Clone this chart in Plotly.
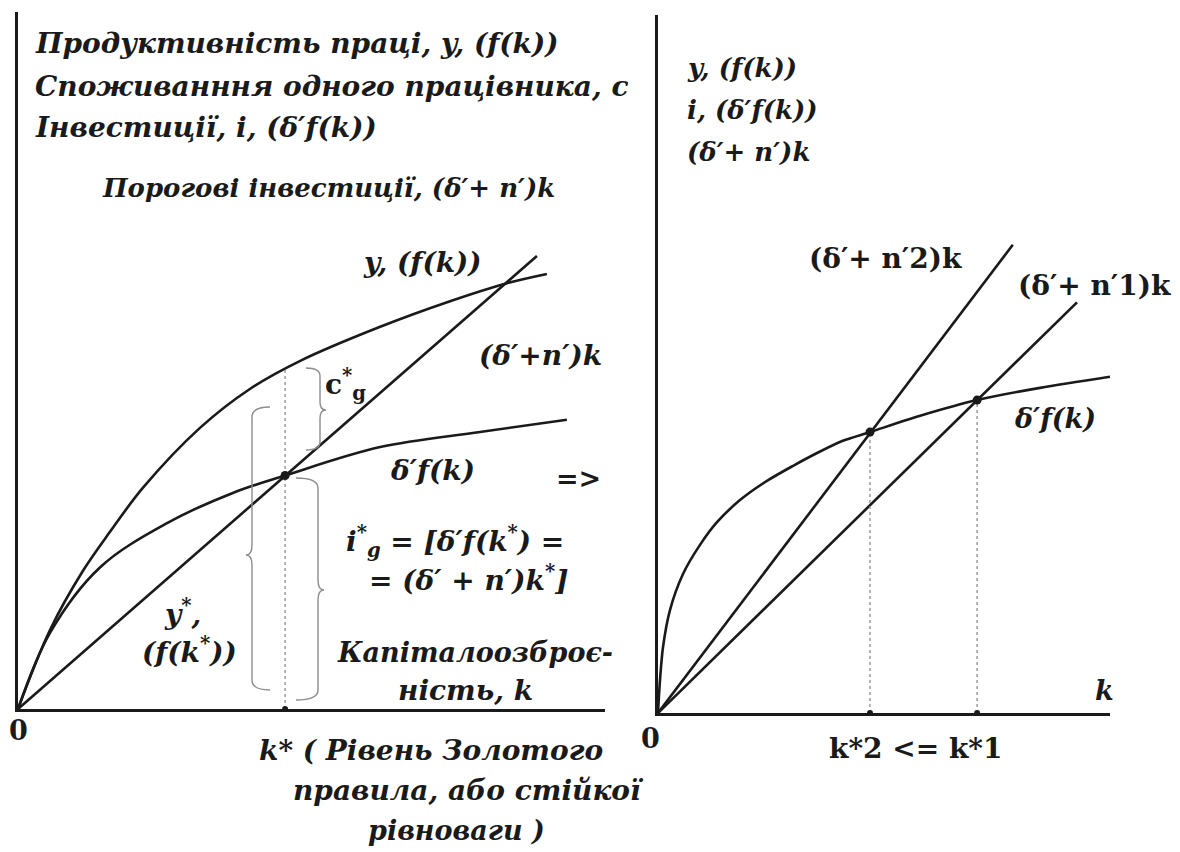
import plotly.graph_objects as go

W, H = 1180, 852

# ---- Left panel: golden-rule diagram ----
k_f = [0, 0.545, 1.107, 1.567, 2.13, 3.10, 3.95, 4.80, 6.17, 7.36, 8.33, 9.01]
y_f = [0, 1.36, 2.38, 3.05, 3.81, 4.84, 5.51, 5.99, 6.58, 7.02, 7.33, 7.49]

k_sf = [0, 0.545, 1.40, 2.54, 3.66, 4.55, 6.17, 7.87, 9.35]
y_sf = [0, 1.31, 2.44, 3.20, 3.72, 4.02, 4.51, 4.77, 4.98]

k_break = [0, 8.84]
y_break = [0, 7.80]

k_gold = 4.55
y_gold_f = 5.85
y_gold_i = 4.02

# ---- Right panel: two break-even lines ----
k_sf2 = [0, 0.044, 0.111, 0.265, 0.553, 0.929, 1.305, 1.814, 2.41, 2.99,
         3.52, 4.09, 4.69, 5.80, 7.06, 8.45, 10.0]
y_sf2 = [0, 0.567, 1.135, 1.77, 2.39, 2.89, 3.28, 3.66, 3.99, 4.25,
         4.47, 4.68, 4.83, 5.11, 5.38, 5.59, 5.78]

k_n2 = [0, 7.85]
y_n2 = [0, 8.05]
k_n1 = [0, 9.27]
y_n1 = [0, 7.06]

k_star = [4.69, 7.06]
y_star = [4.83, 5.38]

INK = "#1a1a1a"
GREY = "#8c8c8c"
FONT = "DejaVu Serif"


def px(x, y):
    return x / W, 1 - y / H


fig = go.Figure()

curve = dict(color=INK, width=2.6)


def add_curve(xs, ys, axis, spline=True, smooth=1.0):
    xa, ya = axis
    line = dict(curve)
    if spline:
        line.update(shape="spline", smoothing=smooth)
    fig.add_trace(go.Scatter(x=xs, y=ys, mode="lines", line=line,
                             xaxis=xa, yaxis=ya, hoverinfo="skip"))


L = ("x", "y")
R = ("x2", "y2")

add_curve(k_f, y_f, L)
add_curve(k_sf, y_sf, L)
add_curve(k_break, y_break, L, spline=False)

# golden-rule guide and points
fig.add_trace(go.Scatter(x=[k_gold, k_gold], y=[0, y_gold_f], mode="lines",
                         line=dict(color=GREY, width=1.3, dash="dot"),
                         xaxis="x", yaxis="y", hoverinfo="skip"))
fig.add_trace(go.Scatter(x=[k_gold], y=[y_gold_i], mode="markers",
                         marker=dict(color=INK, size=9), cliponaxis=False,
                         xaxis="x", yaxis="y", hoverinfo="skip"))
fig.add_trace(go.Scatter(x=[k_gold], y=[0], mode="markers",
                         marker=dict(color=INK, size=6), cliponaxis=False,
                         xaxis="x", yaxis="y", hoverinfo="skip"))

add_curve(k_sf2, y_sf2, R, smooth=0.8)
add_curve(k_n2, y_n2, R, spline=False)
add_curve(k_n1, y_n1, R, spline=False)

for ks, ys in zip(k_star, y_star):
    fig.add_trace(go.Scatter(x=[ks, ks], y=[0, ys], mode="lines",
                             line=dict(color=GREY, width=1.3, dash="dot"),
                             xaxis="x2", yaxis="y2", hoverinfo="skip"))
fig.add_trace(go.Scatter(x=k_star, y=y_star, mode="markers",
                         marker=dict(color=INK, size=9), cliponaxis=False,
                         xaxis="x2", yaxis="y2", hoverinfo="skip"))
fig.add_trace(go.Scatter(x=k_star, y=[0, 0], mode="markers",
                         marker=dict(color=INK, size=6), cliponaxis=False,
                         xaxis="x2", yaxis="y2", hoverinfo="skip"))


# curly braces drawn as paths in page pixels
def brace(xs, y_top, y_bot, hook, tip, y_tip, r=8):
    pts = [
        ("M", [(xs + hook, y_top)]),
        ("Q", [(xs, y_top), (xs, y_top + r)]),
        ("L", [(xs, y_tip - r)]),
        ("Q", [(xs, y_tip), (xs + tip, y_tip)]),
        ("Q", [(xs, y_tip), (xs, y_tip + r)]),
        ("L", [(xs, y_bot - r)]),
        ("Q", [(xs, y_bot), (xs + hook, y_bot)]),
    ]
    out = []
    for cmd, ps in pts:
        coords = " ".join("%.5f,%.5f" % px(a, b) for a, b in ps)
        out.append(cmd + " " + coords)
    fig.add_shape(type="path", path=" ".join(out), xref="paper", yref="paper",
                  line=dict(color=GREY, width=1.4))


brace(320, 368, 450, -14, 6, 410)
brace(252, 407, 690, 18, -6, 555, r=10)
brace(318, 478, 700, -22, 6, 590, r=10)


def label(text, x, y, size=24, anchor="center", italic=True, bold=True):
    ax, ay = px(x, y)
    fig.add_annotation(
        text=text, x=ax, y=ay, xref="paper", yref="paper",
        xanchor=anchor, yanchor="middle", showarrow=False,
        font=dict(family=FONT, size=size, color=INK,
                  style="italic" if italic else "normal",
                  weight="bold" if bold else "normal"),
    )


# left panel texts
label("Продуктивність праці, y, (f(k))", 33, 44, 28, "left")
label("Споживанння одного працівника, c", 33, 87, 28, "left")
label("Інвестиції, i, (δ′f(k))", 33, 128, 28, "left")
label("Порогові інвестиції, (δ′+ n′)k", 100, 188, 26, "left")

label("y, (f(k))", 422, 262, 28)
label("(δ′+n′)k", 540, 355, 28)
label("c<sup>*</sup><sub>g</sub>", 345, 384, 28, italic=False)
label("δ′f(k)", 432, 470, 28)
label("=>", 578, 478, 27, italic=False)
label("i<sup>*</sup><sub>g</sub> = [δ′f(k<sup>*</sup>) =", 455, 541, 28)
label("= (δ′ + n′)k<sup>*</sup>]", 468, 578, 28)
label("y<sup>*</sup>,", 182, 612, 28)
label("(f(k<sup>*</sup>))", 190, 650, 28)
label("Капіталоозброє-", 475, 652, 27)
label("ність, k", 465, 690, 28)
label("0", 18, 730, 27, italic=False)
label("k* ( Рівень Золотого", 257, 750, 28, "left")
label("правила, або стійкої", 468, 790, 28)
label("рівноваги )", 456, 830, 27)

# right panel texts
label("y, (f(k))", 685, 68, 26, "left")
label("i, (δ′f(k))", 685, 110, 26, "left")
label("(δ′+ n′)k", 685, 152, 26, "left")
label("(δ′+ n′2)k", 885, 258, 28, italic=False)
label("(δ′+ n′1)k", 1094, 285, 28, italic=False)
label("δ′f(k)", 1055, 418, 27)
label("k", 1104, 690, 27)
label("0", 650, 738, 27, italic=False)
label("k*2 <= k*1", 915, 748, 28, italic=False)

ax_common = dict(showgrid=False, zeroline=False, showticklabels=False,
                 ticks="", showline=True, linecolor=INK, linewidth=2.5,
                 fixedrange=True)

fig.update_layout(
    width=W, height=H,
    margin=dict(l=0, r=0, t=0, b=0),
    paper_bgcolor="white", plot_bgcolor="white",
    showlegend=False,
    xaxis=dict(domain=[18 / W, 605 / W], range=[0, 10], anchor="y", **ax_common),
    yaxis=dict(domain=[1 - 709 / H, 1 - 12 / H], range=[0, 12], anchor="x", **ax_common),
    xaxis2=dict(domain=[658 / W, 1110 / W], range=[0, 10], anchor="y2", **ax_common),
    yaxis2=dict(domain=[1 - 713 / H, 1 - 15 / H], range=[0, 12], anchor="x2", **ax_common),
)

fig.write_html("out.html")
